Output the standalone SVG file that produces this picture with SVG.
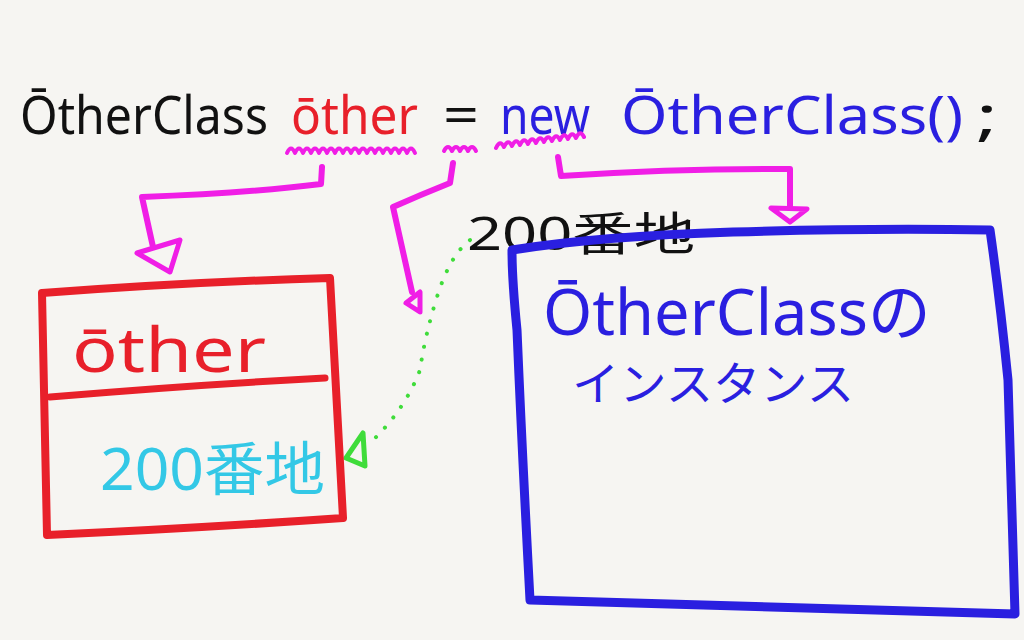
<svg xmlns="http://www.w3.org/2000/svg" width="1024" height="640" viewBox="0 0 1024 640">
<defs>
<style>
.hand{font-family:"Noto Sans","Liberation Sans","Noto Sans CJK JP",sans-serif;}
.pink{fill:none;stroke:#f01ee6;stroke-width:6;stroke-linecap:round;stroke-linejoin:round;}
.wave{fill:none;stroke:#f01ee6;stroke-width:4;stroke-linecap:round;stroke-linejoin:round;}
.tri{fill:none;stroke:#f01ee6;stroke-width:5;stroke-linejoin:round;}
</style>
</defs>
<rect width="1024" height="640" fill="#f6f5f2"/>

<g id="code-line" class="hand" font-size="52">
<text x="20" y="134" fill="#111" textLength="248" lengthAdjust="spacingAndGlyphs">ŌtherClass</text>
<text x="291" y="134" fill="#e8202a" textLength="127" lengthAdjust="spacingAndGlyphs">ōther</text>
<text x="443" y="134" fill="#111" textLength="36" lengthAdjust="spacingAndGlyphs">=</text>
<text x="500" y="134" fill="#2a1fe0" textLength="90" lengthAdjust="spacingAndGlyphs">new</text>
<text x="621" y="134" fill="#2a1fe0" textLength="342" lengthAdjust="spacingAndGlyphs">ŌtherClass()</text>
<text x="976" y="134" fill="#111" textLength="22" lengthAdjust="spacingAndGlyphs">;</text>
</g>

<g id="connectors">
<path class="wave" d="M287 153 q4 -9 8 0 q4 -9 8 0 q4 -9 8 0 q4 -9 8 0 q4 -9 8 0 q4 -9 8 0 q4 -9 8 0 q4 -9 8 0 q4 -9 8 0 q4 -9 8 0 q4 -9 8 0 q4 -9 8 0 q4 -9 8 0 q4 -9 8 0 q4 -9 8 0 q4 -9 8 0"/>
<path class="wave" d="M444 151 q4 -8 8 0 q4 -8 8 0 q4 -8 8 0 q4 -8 8 0"/>
<path class="wave" d="M496 148 q4 -9 8 -1 q4 -9 8 -1 q4 -9 8 -1 q4 -9 8 -1 q4 -9 8 -1 q4 -9 8 -1 q4 -9 8 -1 q4 -9 8 -1 q4 -9 8 -1 q4 -9 8 -1 q4 -9 8 -1"/>

<path class="pink" d="M322 167 L321 184 Q250 193 142 197 L153 247"/>
<path class="tri" d="M137 253 L180 240 L170 272 Z"/>

<path class="pink" d="M453 163 L450 183 Q420 195 393 207 L412 292"/>
<path class="tri" d="M406 303 L420 292 L420 312 Z"/>

<path class="pink" d="M558 157 L561 176 Q680 168 790 169 L790 206"/>
<path class="tri" d="M771 208 L807 209 L790 222 Z"/>

<path d="M470 240 Q450 255 437 297 Q425 335 420 370 Q405 410 370 443" fill="none" stroke="#3fdc3a" stroke-width="4" stroke-linecap="round" stroke-dasharray="0.1 13"/>
<path d="M346 458 L363 433 L365 466 Z" fill="none" stroke="#3fdc3a" stroke-width="5" stroke-linejoin="round"/>
</g>

<g id="address-label">
<text class="hand" x="467" y="250" font-size="46" fill="#111" textLength="228" lengthAdjust="spacingAndGlyphs">200番地</text>
</g>

<g id="variable-box">
<path d="M42 293 Q190 282 330 278 L343 518 Q200 528 47 535 Z" fill="none" stroke="#e8202a" stroke-width="8" stroke-linejoin="round"/>
<path d="M50 397 Q190 385 325 378" fill="none" stroke="#e8202a" stroke-width="7" stroke-linecap="round"/>
<text class="hand" x="72" y="372" font-size="62" fill="#e8202a" textLength="194" lengthAdjust="spacingAndGlyphs">ōther</text>
<text class="hand" x="100" y="490" font-size="58" fill="#33c8e6" textLength="225" lengthAdjust="spacingAndGlyphs">200番地</text>
</g>

<g id="instance-box">
<path d="M512 250 Q600 236 733 232 Q870 228 990 230 Q1000 300 1008 380 Q1012 500 1015 614 Q770 606 530 600 Q522 450 517 330 Q512 280 512 250 Z" fill="none" stroke="#2a1fe0" stroke-width="9" stroke-linejoin="round"/>
<text class="hand" x="543" y="335" font-size="64" fill="#2a1fe0" textLength="388" lengthAdjust="spacingAndGlyphs">ŌtherClassの</text>
<text class="hand" x="572" y="400" font-size="46" fill="#2a1fe0" textLength="282" lengthAdjust="spacingAndGlyphs">インスタンス</text>
</g>
</svg>
